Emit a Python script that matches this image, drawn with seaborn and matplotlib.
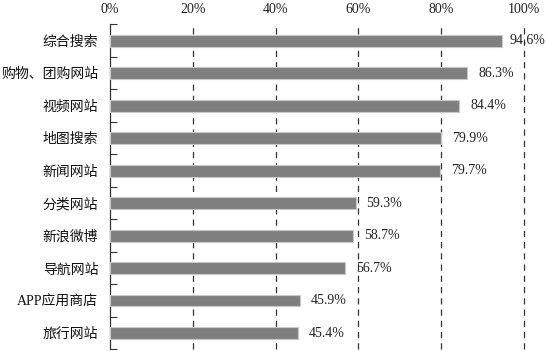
import matplotlib
matplotlib.use("Agg")
import matplotlib.pyplot as plt
import seaborn as sns
import numpy as np
import pandas as pd
from matplotlib.ticker import FixedLocator

categories = ["综合搜索", "购物、团购网站", "视频网站", "地图搜索", "新闻网站",
              "分类网站", "新浪微博", "导航网站", "APP应用商店", "旅行网站"]
values = [94.6, 86.3, 84.4, 79.9, 79.7, 59.3, 58.7, 56.7, 45.9, 45.4]
xticks = [0, 20, 40, 60, 80, 100]
xticklabels = ["0%", "20%", "40%", "60%", "80%", "100%"]

sns.set_style("white")
plt.rcParams['font.family'] = ['Liberation Serif', 'Noto Sans CJK SC', 'DejaVu Sans']

df = pd.DataFrame({"cat": categories, "val": values})

fig = plt.figure(figsize=(5.46, 3.51), dpi=100)
ax = fig.add_axes([110/546, 1.6/351, 414/546, 325/351])

sns.barplot(data=df, x="val", y="cat", orient="h", color="#7f7f7f", saturation=1,
            width=0.36, edgecolor="#c8c8c8", linewidth=0.8, ax=ax, zorder=3)

ax.set_xlim(0, 100)
ax.set_ylim(len(categories) - 0.5, -0.5)
ax.set_xticks(xticks)
ax.set_xticklabels(xticklabels, fontsize=10, color="#222222")
ax.xaxis.tick_top()
ax.tick_params(axis="x", length=0, pad=6)
ax.set_xlabel("")
ax.set_ylabel("")

for x in xticks[1:]:
    ax.axvline(x, color="#333333", linestyle=(0, (5, 4)), linewidth=0.9, zorder=1, clip_on=False)

ax.tick_params(axis="y", which="major", length=0, pad=8.4, labelsize=10, labelcolor="#111111")
ax.yaxis.set_minor_locator(FixedLocator(np.arange(-0.5, len(categories), 1.0)))
ax.tick_params(axis="y", which="minor", direction="in", length=5, width=0.8, color="#333333", left=True)

for s in ["top", "right", "bottom"]:
    ax.spines[s].set_visible(False)
ax.spines["left"].set_color("#333333")
ax.spines["left"].set_linewidth(0.9)

for i, v in enumerate(values):
    off = 5.5 if v > 90 else 8
    ax.annotate(f"{v:.1f}%", xy=(v, i), xytext=(off, 0), textcoords="offset points",
                va="center", ha="left", fontsize=10, color="#222222", zorder=4)

fig.savefig("out.png", dpi=100)
